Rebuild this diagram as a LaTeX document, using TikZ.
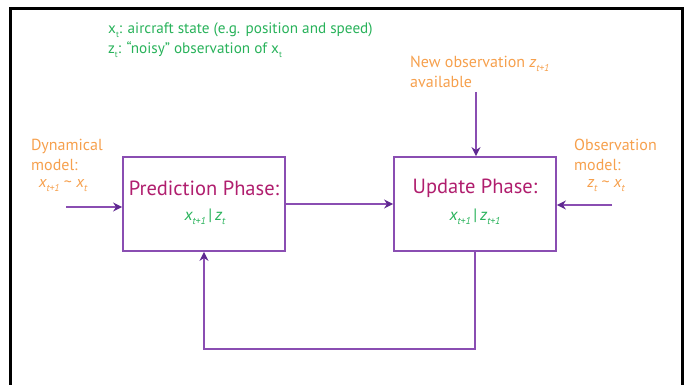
\documentclass[tikz,border=0pt]{standalone}
\usepackage{fontspec}
\setmainfont{PT Sans}
\usetikzlibrary{arrows.meta}
\definecolor{purpL}{RGB}{138,78,178}
\definecolor{purpD}{RGB}{95,40,145}
\definecolor{grn}{RGB}{40,178,90}
\definecolor{org}{RGB}{246,160,77}
\definecolor{mag}{RGB}{176,30,110}
\newcommand{\mysub}[1]{\raisebox{-0.45ex}{\fontsize{8.5}{8.5}\selectfont #1}}
\newcommand{\bsub}[1]{\raisebox{-0.5ex}{\fontsize{10}{10}\selectfont\itshape #1}}
\begin{document}
\begin{tikzpicture}[x=1pt,y=-1pt,
  phasebox/.style={draw=purpL,line width=1.8pt,minimum width=162pt,minimum height=94pt,inner sep=0pt},
  title/.style={text=mag,font=\fontsize{20.5}{22}\selectfont},
  formula/.style={text=grn,font=\fontsize{16.5}{18}\selectfont\itshape},
  olabel/.style={text=org,font=\fontsize{16}{20}\selectfont,align=left,inner sep=0pt},
  conn/.style={draw=purpL,line width=1.6pt},
  arr/.style={conn,-{Stealth[length=9pt,width=9pt,color=purpD]}}]
\useasboundingbox (0,0) rectangle (693,385);
% frame
\draw[line width=2.5pt,black] (10.5,390) -- (10.5,8.5) -- (682.5,8.5) -- (682.5,390);
% legend
\node[text=grn,font=\fontsize{15.2}{20}\selectfont,align=left,anchor=west,inner sep=0pt] (legend) at (108,40)
  {x\mysub{t}: aircraft state (e.g. position and speed)\\ z\mysub{t}: “noisy” observation of x\mysub{t}};
% boxes
\node[phasebox] (pred) at (204,204) {};
\node[phasebox] (upd) at (475,204) {};
\node[title] (predT) at (204,188) {Prediction Phase:};
\node[title] (updT) at (475,188) {Update Phase:};
\node[formula] (predF) at (205,217) {x\bsub{t+1}\,\upshape|\,\itshape z\bsub{t}};
\node[formula] (updF) at (475,217) {x\bsub{t+1}\,\upshape|\,\itshape z\bsub{t+1}};
% side labels
\node[olabel,anchor=west] (dynL) at (31,155) {Dynamical\\ model:};
\node[text=org,font=\fontsize{16}{18}\selectfont\itshape] (dynF) at (63,186) {x\bsub{t+1} \upshape\textasciitilde\ \itshape x\bsub{t}};
\node[olabel,anchor=west] (obsL) at (574,155) {Observation\\ model:};
\node[text=org,font=\fontsize{16}{18}\selectfont\itshape] (obsF) at (606,186) {z\bsub{t} \upshape\textasciitilde\ \itshape x\bsub{t}};
\node[olabel,anchor=west] (newL) at (410,72) {New observation {\itshape z\bsub{t+1}}\\ available};
% connectors
\coordinate (dynS) at (66,207);
\coordinate (obsS) at (612,205);
\coordinate (newS) at (476,92);
\draw[arr] (dynS) -- (dynS -| pred.west);
\draw[arr] (pred.east) -- (upd.west);
\draw[arr] (obsS) -- (obsS -| upd.east);
\draw[arr] (newS) -- (newS |- upd.north);
\draw[arr] (upd.south) -- ++(0,97) -| (pred.south);
\end{tikzpicture}
\end{document}
